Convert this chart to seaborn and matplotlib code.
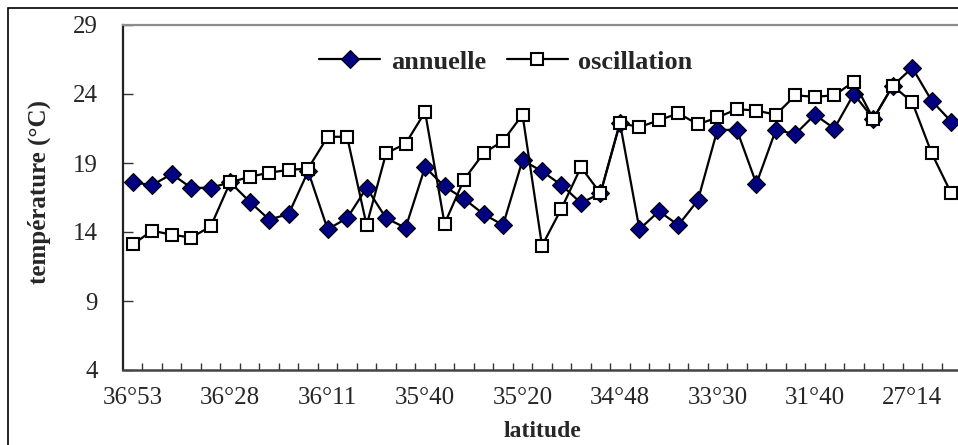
import numpy as np
import pandas as pd
import matplotlib
matplotlib.use("Agg")
import matplotlib.pyplot as plt
import seaborn as sns
from matplotlib.lines import Line2D
from matplotlib.patches import Rectangle

# values (43 stations, north -> south)
annuelle = [17.6, 17.4, 18.2, 17.2, 17.2, 17.6, 16.2, 14.9, 15.3, 18.4,
            14.2, 15.0, 17.2, 15.0, 14.3, 18.7, 17.3, 16.4, 15.3, 14.5,
            19.2, 18.4, 17.4, 16.1, 16.8, 21.9, 14.2, 15.5, 14.5, 16.3,
            21.4, 21.4, 17.5, 21.4, 21.1, 22.5, 21.5, 24.0, 22.2, 24.6,
            25.9, 23.5, 22.0]
oscillation = [13.1, 14.1, 13.8, 13.6, 14.4, 17.6, 18.0, 18.3, 18.5, 18.6,
               20.9, 20.9, 14.5, 19.7, 20.4, 22.7, 14.6, 17.8, 19.7, 20.6,
               22.5, 13.0, 15.7, 18.7, 16.8, 21.9, 21.6, 22.1, 22.6, 21.8,
               22.3, 22.9, 22.8, 22.5, 23.9, 23.8, 23.9, 24.9, 22.2, 24.6,
               23.4, 19.7, 16.8]
lat_labels = ["36°53", "36°28", "36°11", "35°40", "35°20",
              "34°48", "33°30", "31°40", "27°14"]
y_ticks = [4, 9, 14, 19, 24, 29]

df = pd.DataFrame({
    "station": np.arange(len(annuelle)),
    "annuelle": annuelle,
    "oscillation": oscillation,
})

sns.set_style("white")
plt.rcParams["font.family"] = ["Liberation Serif", "DejaVu Serif"]

fig = plt.figure(figsize=(9.58, 4.45), dpi=100)
ax = fig.add_axes([123 / 958, 75 / 445, 838 / 958, 345 / 445])

sns.lineplot(data=df, x="station", y="annuelle", ax=ax, color="black",
             linewidth=1.6, marker="D", markersize=9,
             markerfacecolor="#000080", markeredgecolor="black",
             markeredgewidth=0.8, zorder=3)
sns.lineplot(data=df, x="station", y="oscillation", ax=ax, color="black",
             linewidth=1.6, marker="s", markersize=8,
             markerfacecolor="white", markeredgecolor="black",
             markeredgewidth=1.5, zorder=4)

n = len(annuelle)
ax.set_xlim(-0.5, n - 0.5)
ax.set_ylim(4, 29)
ax.set_yticks(y_ticks)
ax.set_xticks(np.arange(0, n, 5)[:len(lat_labels)])
ax.set_xticklabels(lat_labels)
ax.set_xticks(np.arange(0.5, n, 1), minor=True)

ax.tick_params(axis="x", which="major", length=0, pad=12, labelsize=18)
ax.tick_params(axis="x", which="minor", direction="in", length=5,
               width=1, color="#333333", bottom=True)
ax.tick_params(axis="y", which="major", direction="in", length=7,
               width=1, color="#333333", pad=18, labelsize=18, left=True)

for side in ["top", "right"]:
    ax.spines[side].set_color("#8c8c8c")
    ax.spines[side].set_linewidth(1.6)
ax.spines["left"].set_color("#222222")
ax.spines["left"].set_linewidth(1.6)
ax.spines["bottom"].set_color("#444444")
ax.spines["bottom"].set_linewidth(1.8)

ax.set_xlabel("latitude", fontsize=17, fontweight="bold")
ax.xaxis.set_label_coords(0.5, -0.177)
ax.xaxis.label.set_va("center")
ax.set_ylabel("température (°C)", fontsize=18, fontweight="bold")
ax.yaxis.set_label_coords(-0.100, 0.516)
ax.yaxis.label.set_va("center")

handles = [
    Line2D([], [], color="black", linewidth=1.6, marker="D", markersize=9,
           markerfacecolor="#000080", markeredgecolor="black",
           markeredgewidth=0.8),
    Line2D([], [], color="black", linewidth=1.6, marker="s", markersize=8,
           markerfacecolor="white", markeredgecolor="black",
           markeredgewidth=1.5),
]
ax.legend(handles, ["annuelle", "oscillation"], loc="center",
          bbox_to_anchor=(0.457, 0.893), ncol=2, frameon=False,
          handlelength=2.3, handletextpad=0.4, columnspacing=0.8,
          prop={"family": "Liberation Serif", "weight": "bold", "size": 19})

# outer chart frame (cut at right and bottom as in the reference)
fig.add_artist(Rectangle((8 / 958, -0.1), 1.2, (445 - 8) / 445 + 0.1,
                         transform=fig.transFigure, fill=False,
                         edgecolor="black", linewidth=1.2, clip_on=False))

fig.savefig("out.png", dpi=100)
